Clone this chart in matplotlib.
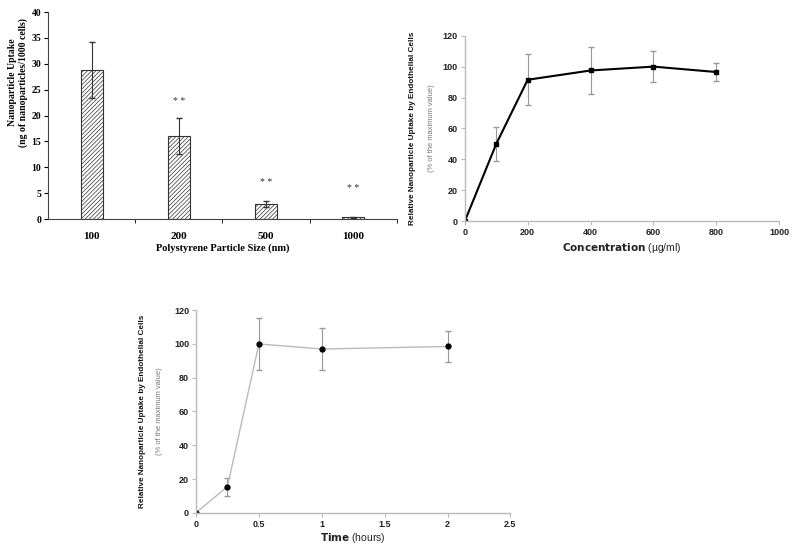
import matplotlib.pyplot as plt

# Panel A: uptake vs particle size
sizes = ['100', '200', '500', '1000']
uptake = [28.8, 16.0, 2.9, 0.3]
uptake_err = [5.5, 3.5, 0.5, 0.1]
star_y = [None, 22.8, 7.0, 6.0]

# Panel B: uptake vs concentration
conc = [0, 100, 200, 400, 600, 800]
conc_uptake = [0, 50, 91.5, 97.5, 100, 96.5]
conc_err = [0, 11, 16.5, 15.5, 10, 6]

# Panel C: uptake vs time
hours = [0, 0.25, 0.5, 1, 2]
time_uptake = [0, 15.5, 100, 97, 98.5]
time_err = [0, 5.3, 15.5, 12.3, 9.3]

plt.rcParams['hatch.linewidth'] = 0.5
fig = plt.figure(figsize=(8, 5.49), dpi=100)

serif = ['Liberation Serif', 'DejaVu Serif']
sans = ['Liberation Sans', 'DejaVu Sans']

# ---- panel A
ax1 = fig.add_axes([0.06, 0.601, 0.436, 0.377])
pos = [i + 0.5 for i in range(len(sizes))]
ax1.bar(pos, uptake, width=0.25, color='white', edgecolor='#333333',
        hatch='////////', linewidth=0.8, zorder=2)
ax1.errorbar(pos, uptake, yerr=uptake_err, fmt='none', ecolor='#333333',
             elinewidth=0.8, capsize=2, zorder=3)
for x, s in zip(pos, star_y):
    if s is not None:
        ax1.text(x, s, '* *', ha='center', va='center', fontsize=7,
                 family=serif, color='#333333')
ax1.set_xlim(0, 4)
ax1.set_ylim(0, 40)
ax1.set_yticks(range(0, 45, 5))
ax1.set_xticks(pos)
ax1.set_xticklabels(sizes)
ax1.set_xticks([1, 2, 3, 4], minor=True)
ax1.tick_params(axis='x', which='major', length=0, pad=9, labelsize=8)
ax1.tick_params(axis='x', which='minor', length=3, direction='out')
ax1.tick_params(axis='y', length=3, direction='out', pad=2, labelsize=7)
for lab in ax1.get_xticklabels() + ax1.get_yticklabels():
    lab.set_family(serif)
    lab.set_fontweight('bold')
for side in ['left', 'bottom']:
    ax1.spines[side].set_color('#444444')
ax1.spines['top'].set_visible(False)
ax1.spines['right'].set_visible(False)
ax1.set_xlabel('Polystyrene Particle Size (nm)', family=serif,
               fontweight='bold', fontsize=7.5)
ax1.set_ylabel('Nanoparticle Uptake\n(ng of nanoparticles/1000 cells)',
               family=serif, fontweight='bold', fontsize=7)
ax1.xaxis.set_label_coords(0.5, -0.12)
ax1.yaxis.set_label_coords(-0.058, 0.66)


def style_line_axes(ax):
    for side in ['top', 'right']:
        ax.spines[side].set_visible(False)
    for side in ['left', 'bottom']:
        ax.spines[side].set_color('#bbbbbb')
        ax.spines[side].set_linewidth(1)
    ax.tick_params(length=3, color='#bbbbbb', labelsize=6.5,
                   labelcolor='#222222', pad=2)
    for lab in ax.get_xticklabels() + ax.get_yticklabels():
        lab.set_family(sans)
        lab.set_fontweight('bold')
    ax.set_ylim(0, 120)
    ax.set_yticks(range(0, 140, 20))


def add_ylabels(ax, main_x, sub_x):
    ax.text(main_x, 0.5, 'Relative Nanoparticle Uptake by Endothelial Cells',
            transform=ax.transAxes, rotation=90, ha='center', va='center',
            family=sans, fontweight='bold', fontsize=5.9, color='#111111')
    ax.text(sub_x, 0.5, '(% of the maximum value)', transform=ax.transAxes,
            rotation=90, ha='center', va='center', family=sans, fontsize=5.4,
            color='#777777')


# ---- panel B
ax2 = fig.add_axes([0.581, 0.597, 0.393, 0.338])
ax2.errorbar(conc, conc_uptake, yerr=conc_err, fmt='none', ecolor='#999999',
             elinewidth=0.8, capsize=2)
ax2.plot(conc, conc_uptake, color='black', linewidth=1.5, marker='s',
         markersize=2.8)
ax2.set_xlim(0, 1000)
ax2.set_xticks(range(0, 1200, 200))
style_line_axes(ax2)
ax2.set_xlabel('$\\bf{Concentration}$ (\u00b5g/ml)', family=sans, fontsize=7.5,
               color='#222222', labelpad=3)
add_ylabels(ax2, -0.166, -0.105)

# ---- panel C
ax3 = fig.add_axes([0.245, 0.066, 0.393, 0.369])
ax3.errorbar(hours, time_uptake, yerr=time_err, fmt='none', ecolor='#999999',
             elinewidth=0.8, capsize=2)
ax3.plot(hours, time_uptake, color='#bbbbbb', linewidth=1, marker='o',
         markersize=3.5, markerfacecolor='black', markeredgecolor='black')
ax3.set_xlim(0, 2.5)
ax3.set_xticks([0, 0.5, 1, 1.5, 2, 2.5])
ax3.set_xticklabels(['0', '0.5', '1', '1.5', '2', '2.5'])
style_line_axes(ax3)
ax3.set_xlabel('$\\bf{Time}$ (hours)', family=sans, fontsize=7.5,
               color='#222222', labelpad=2)
add_ylabels(ax3, -0.169, -0.115)

fig.savefig('out.png', dpi=100)
